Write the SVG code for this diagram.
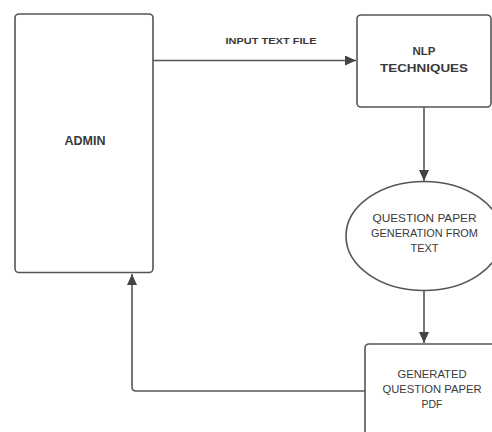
<svg xmlns="http://www.w3.org/2000/svg" width="492" height="432" viewBox="0 0 492 432">
<style>
.box{fill:#fff;stroke:#555;stroke-width:1.6}
.lbl{font-family:"Liberation Sans",Arial,sans-serif;fill:#3a3a3a;text-anchor:middle}
.b{font-weight:bold}
.con{fill:none;stroke:#555;stroke-width:1.6}
</style>
<defs>
<marker id="ah" viewBox="0 0 11 10" refX="11" refY="5" markerWidth="11" markerHeight="10" markerUnits="userSpaceOnUse" orient="auto">
<path d="M0,0 L11,5 L0,10 z" fill="#444"/>
</marker>
</defs>
<rect width="492" height="432" fill="#fff"/>
<g id="connectors">
<line class="con" x1="153" y1="60.5" x2="356" y2="60.5" marker-end="url(#ah)"/>
<text class="lbl b" x="271" y="43.5" font-size="8.5" textLength="91" lengthAdjust="spacingAndGlyphs">INPUT TEXT FILE</text>
<line class="con" x1="424" y1="107" x2="424" y2="181" marker-end="url(#ah)"/>
<line class="con" x1="424" y1="290" x2="424" y2="343" marker-end="url(#ah)"/>
<path class="con" d="M365,391 L136,391 Q132,391 132,387 L132,274" marker-end="url(#ah)"/>
</g>
<g id="admin">
<rect class="box" x="15" y="14" width="138" height="258.5" rx="4"/>
<text class="lbl b" x="85" y="144.5" font-size="12.5">ADMIN</text>
</g>
<g id="nlp">
<rect class="box" x="357" y="15" width="134" height="92" rx="4"/>
<text class="lbl b" x="424" y="55" font-size="11.5">NLP</text>
<text class="lbl b" x="424" y="72" font-size="11.5" textLength="88" lengthAdjust="spacingAndGlyphs">TECHNIQUES</text>
</g>
<g id="generation">
<ellipse class="box" cx="424" cy="236" rx="78" ry="54.5"/>
<text class="lbl" x="424.5" y="222" font-size="11" textLength="104" lengthAdjust="spacingAndGlyphs">QUESTION PAPER</text>
<text class="lbl" x="424.5" y="237" font-size="11" textLength="107" lengthAdjust="spacingAndGlyphs">GENERATION FROM</text>
<text class="lbl" x="424.5" y="252" font-size="11">TEXT</text>
</g>
<g id="output">
<rect class="box" x="365" y="344" width="140" height="100" rx="4"/>
<text class="lbl" x="432" y="378" font-size="10.5" textLength="69" lengthAdjust="spacingAndGlyphs">GENERATED</text>
<text class="lbl" x="432" y="393" font-size="10.5" textLength="99" lengthAdjust="spacingAndGlyphs">QUESTION PAPER</text>
<text class="lbl" x="432" y="407.5" font-size="10.5">PDF</text>
</g>
</svg>
